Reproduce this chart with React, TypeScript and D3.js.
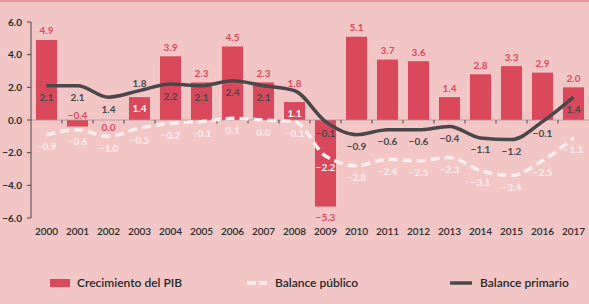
import React from "react";
import * as d3 from "d3";

const years = ["2000","2001","2002","2003","2004","2005","2006","2007","2008","2009","2010","2011","2012","2013","2014","2015","2016","2017"];
const pib = [4.9,-0.4,0.0,1.4,3.9,2.3,4.5,2.3,1.1,-5.3,5.1,3.7,3.6,1.4,2.8,3.3,2.9,2.0];
const balancePublico = [-0.9,-0.6,-1.0,-0.5,-0.2,-0.1,0.1,0.0,-0.1,-2.2,-2.8,-2.4,-2.5,-2.3,-3.1,-3.4,-2.5,-1.1];
const balancePrimario = [2.1,2.1,1.4,1.8,2.2,2.1,2.4,2.1,1.8,-0.1,-0.9,-0.6,-0.6,-0.4,-1.1,-1.2,-0.1,1.4];
const yTicks = [6,4,2,0,-2,-4,-6];
const legendLabels = ["Crecimiento del PIB","Balance público","Balance primario"];

const W = 589, H = 304;
const BG = "#f2c6c5";
const RED = "#d9495b";
const REDLABEL = "#dc4a60";
const DARK = "#4a4748";
const WHITE = "#fbeeee";
const FONT = "Lato, 'Open Sans', sans-serif";

// label placement rules (by year)
const pibInside = new Set(["2003","2008"]);
const primarioAbove = new Set(["2003","2008"]);

export default function App() {
  const x = d3.scaleBand<string>().domain(years).range([31, 589]).paddingInner(0.32).paddingOuter(0.16);
  const y = d3.scaleLinear().domain([-6, 6]).range([218, 22]);
  const cx = (i: number) => (x(years[i]) as number) + x.bandwidth() / 2;
  const y0 = y(0);

  const line = d3.line<number>().x((_, i) => cx(i)).y(d => y(d)).curve(d3.curveMonotoneX);

  const fmt = d3.format(".1f");

  return (
    <svg width={W} height={H} style={{ position: "absolute", left: 0, top: 0, fontFamily: FONT }}>
      <rect x={0} y={0} width={W} height={H} fill={BG} />
      <line x1={0} x2={W} y1={1} y2={1} stroke="#e3878d" strokeWidth={1.6} />

      {/* bars */}
      {pib.map((v, i) => (
        <rect key={"b" + i} x={x(years[i])} width={x.bandwidth()} y={Math.min(y(v), y0)} height={Math.abs(y(v) - y0)} fill={RED} />
      ))}

      {/* zero line + ticks */}
      <line x1={31} x2={589} y1={y0} y2={y0} stroke="#a89898" strokeWidth={0.8} />
      {years.map((yr, i) => i > 0 ? (
        <line key={"t" + i} x1={(x(yr) as number) - x.step() * 0.16} x2={(x(yr) as number) - x.step() * 0.16} y1={y0} y2={y0 + 3.5} stroke={DARK} strokeWidth={1} />
      ) : null)}

      {/* y axis */}
      <line x1={31} x2={31} y1={y(6)} y2={y(-6)} stroke={DARK} strokeWidth={1} />
      {yTicks.map(t => (
        <g key={"y" + t}>
          <line x1={27} x2={31} y1={y(t)} y2={y(t)} stroke={DARK} strokeWidth={1} />
          <text x={22} y={y(t)} dy="0.35em" textAnchor="end" fontSize={10} fontWeight={700} fill="#2b2b2b">{fmt(t)}</text>
        </g>
      ))}

      {/* x labels */}
      {years.map((yr, i) => (
        <text key={"x" + i} x={cx(i)} y={231} dy="0.35em" textAnchor="middle" fontSize={10} fontWeight={600} fill="#2b2b2b">{yr}</text>
      ))}

      {/* lines */}
      <path d={line(balancePublico) || ""} fill="none" stroke={WHITE} strokeWidth={3.5} strokeDasharray="9 5" />
      <path d={line(balancePrimario) || ""} fill="none" stroke={DARK} strokeWidth={3.5} strokeLinejoin="round" />

      {/* PIB labels */}
      {pib.map((v, i) => {
        const yr = years[i];
        let ly: number; let col = REDLABEL;
        if (pibInside.has(yr)) { ly = y(v) + 11; col = "#ffffff"; }
        else if (v > 0) ly = y(v) - 9;
        else if (v === 0) ly = y0 + 7;
        else if (v > -1) ly = y0 - 5;
        else ly = y(v) + 11;
        return <text key={"pl" + i} x={cx(i)} y={ly} dy="0.35em" textAnchor="middle" fontSize={10} fontWeight={700} fill={col}>{fmt(v)}</text>;
      })}

      {/* Primario labels */}
      {balancePrimario.map((v, i) => {
        const yr = years[i];
        const above = primarioAbove.has(yr);
        const ly = above ? y(v) - 7 : y(v) + 12;
        const col = yr === "2008" ? REDLABEL : DARK;
        return <text key={"pr" + i} x={cx(i)} y={ly} dy="0.35em" textAnchor="middle" fontSize={10} fontWeight={700} fill={col}>{fmt(v)}</text>;
      })}

      {/* Publico labels */}
      {balancePublico.map((v, i) => (
        <text key={"pu" + i} x={cx(i)} y={y(v) + 12} dy="0.35em" textAnchor="middle" fontSize={10} fontWeight={700} fill={WHITE}>{fmt(v)}</text>
      ))}

      {/* legend */}
      <rect x={50} y={279} width={20} height={8} fill={RED} />
      <text x={77} y={283} dy="0.35em" fontSize={12} fontWeight={600} fill="#262626">{legendLabels[0]}</text>
      <line x1={247} x2={267} y1={283} y2={283} stroke={WHITE} strokeWidth={3.5} strokeDasharray="9 3" />
      <text x={275} y={283} dy="0.35em" fontSize={12} fontWeight={600} fill="#262626">{legendLabels[1]}</text>
      <line x1={450} x2={472} y1={283} y2={283} stroke={DARK} strokeWidth={3.5} />
      <text x={480} y={283} dy="0.35em" fontSize={12} fontWeight={600} fill="#262626">{legendLabels[2]}</text>
    </svg>
  );
}
